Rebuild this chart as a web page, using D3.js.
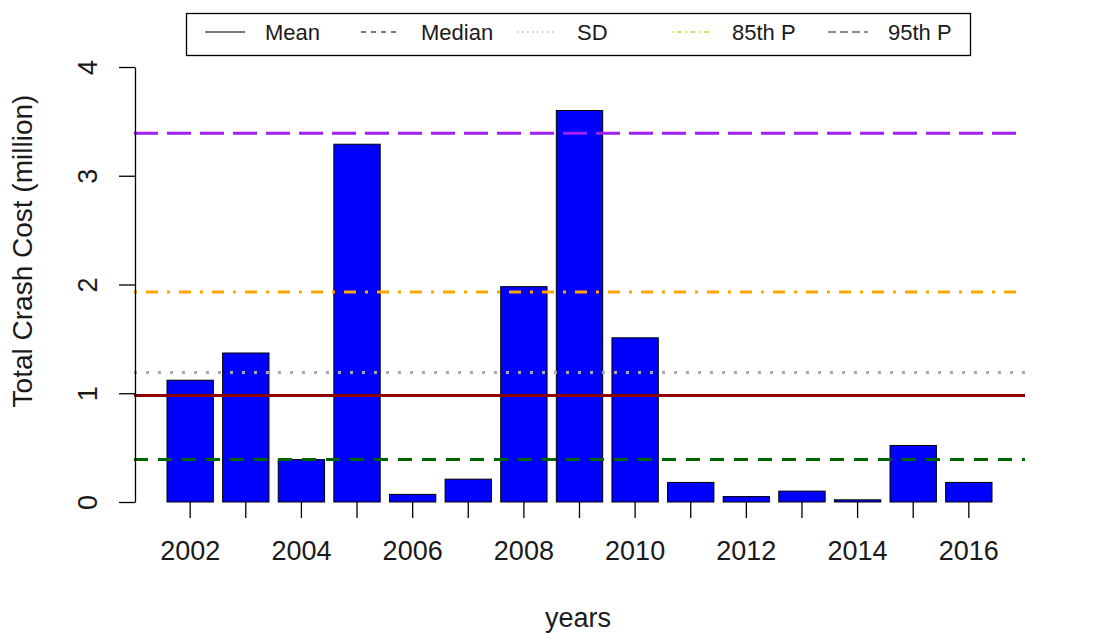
<!DOCTYPE html>
<html><head><meta charset="utf-8">
<script src="https://cdn.jsdelivr.net/npm/d3@7"></script>
<style>body{margin:0;background:#fff}svg{display:block}text{font-family:"Liberation Sans",Arial,sans-serif;fill:#1a1a1a}</style>
</head><body><svg id="c" width="1094" height="635"></svg>
<script>
const years = [2002,2003,2004,2005,2006,2007,2008,2009,2010,2011,2012,2013,2014,2015,2016];
const costs = [1.12,1.37,0.39,3.29,0.07,0.21,1.98,3.60,1.51,0.18,0.05,0.10,0.02,0.52,0.18];
const yTicks = [0,1,2,3,4];
const xLabels = [2002,2004,2006,2008,2010,2012,2014,2016];
const refNames = ["Mean","Median","SD","85th P","95th P"];
const refValues = [0.98,0.39,1.19,1.93,3.39];
const refColors = ["#8b0000","#006400","#a9a9a9","#ffa500","#a020f0"];
const refDash = ["none","14,10","3,9","3,9,12,9","24,9"];
const legColors = ["#5b4646","#4a4a4a","#b8b8b8","#c8dc20","#6a6478"];
const legDash = ["none","5,5","1.5,3.5","1.5,3.5,5,3.5","8,4"];

const svg = d3.select("#c");
const x = d3.scaleBand().domain(years).range([134,1025]).paddingInner(0.2/1.2).paddingOuter(0.712/1.2);
const y = d3.scaleLinear().domain([0,4]).range([502,67]);

// bars
svg.append("g").selectAll("rect").data(years).join("rect")
  .attr("x", d=>x(d)).attr("width", x.bandwidth())
  .attr("y", (d,i)=>y(costs[i])).attr("height",(d,i)=>y(0)-y(costs[i]))
  .attr("fill","#0000ff").attr("stroke","#000").attr("stroke-width",1);

// reference lines
svg.append("g").selectAll("line").data(refValues).join("line")
  .attr("x1",134).attr("x2",1025)
  .attr("y1",d=>y(d)).attr("y2",d=>y(d))
  .attr("stroke",(d,i)=>refColors[i]).attr("stroke-width",3)
  .attr("stroke-dasharray",(d,i)=>refDash[i]);

// y axis
const ya = svg.append("g").attr("transform","translate(135,0)")
  .call(d3.axisLeft(y).tickValues(yTicks).tickSize(16).tickSizeOuter(0).tickFormat(d3.format("d")));
ya.select(".domain").attr("stroke","#000").attr("stroke-width",1.3);
ya.selectAll(".tick line").attr("stroke","#000").attr("stroke-width",1.3);
ya.selectAll(".tick text").attr("x",0).attr("dy",0).attr("font-size",27)
  .attr("text-anchor","middle")
  .attr("transform","translate(-38,0) rotate(-90)");

// x axis ticks (no domain line)
const xa = svg.append("g").attr("transform","translate(0,502)")
  .call(d3.axisBottom(x).tickSize(16).tickFormat(d=>xLabels.includes(d)?d:""));
xa.select(".domain").remove();
xa.selectAll(".tick line").attr("stroke","#000").attr("stroke-width",1.3);
xa.selectAll(".tick text").attr("y",58).attr("dy","0").attr("font-size",27);

// axis titles
svg.append("text").attr("x",578).attr("y",627).attr("text-anchor","middle")
  .attr("font-size",27).text("years");
svg.append("text").attr("transform","translate(22,251) rotate(-90)").attr("dy","0.35em")
  .attr("text-anchor","middle").attr("font-size",28).text("Total Crash Cost (million)");

// legend
const lg = svg.append("g");
lg.append("rect").attr("x",186.5).attr("y",13.5).attr("width",784).attr("height",42)
  .attr("fill","#fff").attr("stroke","#000").attr("stroke-width",1.3);
const lx = [205,361,517,672,828];
const items = lg.selectAll("g.it").data(refNames).join("g").attr("class","it")
  .attr("transform",(d,i)=>`translate(${lx[i]},32)`);
items.append("line").attr("x1",0).attr("x2",40).attr("y1",0).attr("y2",0)
  .attr("stroke",(d,i)=>legColors[i]).attr("stroke-width",1.6)
  .attr("stroke-dasharray",(d,i)=>legDash[i]);
items.append("text").attr("x",60).attr("dy","0.35em").attr("font-size",22).text(d=>d);
</script></body></html>
